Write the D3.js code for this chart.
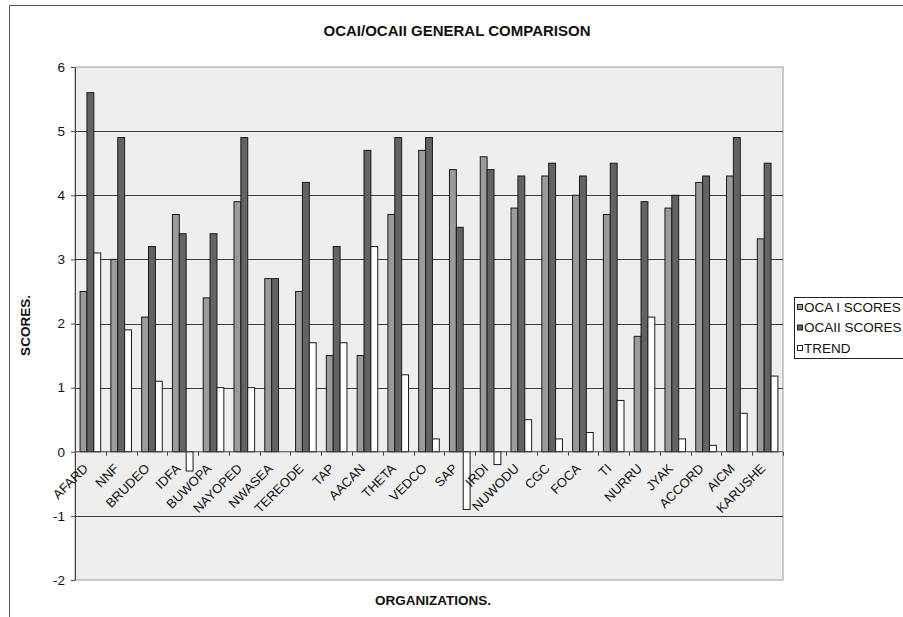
<!DOCTYPE html>
<html>
<head>
<meta charset="utf-8">
<script src="https://cdn.jsdelivr.net/npm/d3@7"></script>
<style>
  body { margin: 0; background: #fff; }
  svg { display: block; font-family: "Liberation Sans", Arial, sans-serif; }
</style>
</head>
<body>
<svg id="chart" width="903" height="617"></svg>
<script>
// chart data
const organizations = ["AFARD", "NNF", "BRUDEO", "IDFA", "BUWOPA", "NAYOPED", "NWASEA", "TEREODE",
  "TAP", "AACAN", "THETA", "VEDCO", "SAP", "IRDI", "NUWODU", "CGC", "FOCA", "TI", "NURRU",
  "JYAK", "ACCORD", "AICM", "KARUSHE"];
const ocaIScores  = [2.5, 3.0, 2.1, 3.7, 2.4, 3.9, 2.7, 2.5, 1.5, 1.5, 3.7, 4.7, 4.4, 4.6, 3.8, 4.3, 4.0, 3.7, 1.8, 3.8, 4.2, 4.3, 3.32];
const ocaIIScores = [5.6, 4.9, 3.2, 3.4, 3.4, 4.9, 2.7, 4.2, 3.2, 4.7, 4.9, 4.9, 3.5, 4.4, 4.3, 4.5, 4.3, 4.5, 3.9, 4.0, 4.3, 4.9, 4.5];
const trend       = [3.1, 1.9, 1.1, -0.3, 1.0, 1.0, 0, 1.7, 1.7, 3.2, 1.2, 0.2, -0.9, -0.2, 0.5, 0.2, 0.3, 0.8, 2.1, 0.2, 0.1, 0.6, 1.18];
const seriesNames = ["OCA I SCORES", "OCAII SCORES", "TREND"];
const seriesColors = ["#9b9b9b", "#636363", "#ffffff"];
const yTicks = [-2, -1, 0, 1, 2, 3, 4, 5, 6];

const svg = d3.select("#chart");
const plot = { left: 75, top: 67, right: 783, bottom: 580 };

// outer chart frame (cut off at right and bottom in the original)
svg.append("path")
  .attr("d", "M9.5,617 V5.5 H903")
  .attr("fill", "none")
  .attr("stroke", "#555")
  .attr("stroke-width", 1);

const x0 = d3.scaleBand().domain(organizations).range([plot.left, plot.right]);
const bw = x0.bandwidth();
const gap = bw * 0.33;
const x1 = d3.scaleBand().domain(seriesNames).range([gap / 2, bw - gap / 2]);
const y = d3.scaleLinear().domain([-2, 6]).range([plot.bottom, plot.top]);

// plot area
svg.append("rect")
  .attr("x", plot.left).attr("y", plot.top)
  .attr("width", plot.right - plot.left).attr("height", plot.bottom - plot.top)
  .attr("fill", "#eeeeee")
  .attr("stroke", "#9a9a9a");

// gridlines
svg.append("g")
  .selectAll("line")
  .data(yTicks.filter(t => t !== -2 && t !== 6 && t !== 0))
  .join("line")
    .attr("x1", plot.left).attr("x2", plot.right)
    .attr("y1", d => Math.round(y(d)) + 0.5).attr("y2", d => Math.round(y(d)) + 0.5)
    .attr("stroke", "#3a3a3a");

// bars
const rows = organizations.map((org, i) => ({
  org,
  values: [ocaIScores[i], ocaIIScores[i], trend[i]]
}));

const groups = svg.append("g")
  .selectAll("g")
  .data(rows)
  .join("g")
    .attr("transform", d => `translate(${x0(d.org)},0)`);

groups.selectAll("rect")
  .data(d => d.values.map((v, k) => ({ name: seriesNames[k], value: v, k })).filter(e => e.value !== 0))
  .join("rect")
    .attr("x", d => x1(d.name))
    .attr("width", x1.bandwidth())
    .attr("y", d => y(Math.max(0, d.value)))
    .attr("height", d => Math.abs(y(d.value) - y(0)))
    .attr("fill", d => seriesColors[d.k])
    .attr("stroke", "#1a1a1a")
    .attr("stroke-width", 1);

// y axis
const yAxis = svg.append("g")
  .attr("transform", `translate(${plot.left},0)`)
  .call(d3.axisLeft(y).tickValues(yTicks).tickFormat(d3.format("d")).tickSize(4).tickSizeOuter(0));
yAxis.select(".domain").attr("stroke", "#444");
yAxis.selectAll(".tick line").attr("stroke", "#444");
yAxis.selectAll(".tick text")
  .attr("font-size", 13.5)
  .attr("fill", "#111")
  .attr("x", -10)
  .text(d => d < 0 ? "-" + Math.abs(d) : d);

// x axis along zero
const xAxisG = svg.append("g").attr("transform", `translate(0,${y(0)})`);
xAxisG.append("line")
  .attr("x1", plot.left).attr("x2", plot.right)
  .attr("stroke", "#444");
xAxisG.selectAll("line.tk")
  .data(organizations)
  .join("line")
    .attr("class", "tk")
    .attr("x1", (d, i) => Math.round(plot.left + bw * (i + 1)) + 0.5)
    .attr("x2", (d, i) => Math.round(plot.left + bw * (i + 1)) + 0.5)
    .attr("y1", 0).attr("y2", 4)
    .attr("stroke", "#444");

xAxisG.selectAll("text")
  .data(organizations)
  .join("text")
    .attr("transform", d => `translate(${x0(d) + bw / 2 - 8},11) rotate(-45)`)
    .attr("text-anchor", "end")
    .attr("dy", "0.71em")
    .attr("font-size", 13)
    .attr("fill", "#111")
    .text(d => d);

// titles
svg.append("text")
  .attr("x", 457).attr("y", 36)
  .attr("text-anchor", "middle")
  .attr("font-size", 15).attr("font-weight", "bold")
  .attr("fill", "#111")
  .text("OCAI/OCAII GENERAL COMPARISON");

svg.append("text")
  .attr("transform", `translate(30,${(plot.top + plot.bottom) / 2 + 2}) rotate(-90)`)
  .attr("text-anchor", "middle")
  .attr("font-size", 13.5).attr("font-weight", "bold")
  .attr("fill", "#111")
  .text("SCORES.");

svg.append("text")
  .attr("x", 433).attr("y", 605)
  .attr("text-anchor", "middle")
  .attr("font-size", 13.5).attr("font-weight", "bold")
  .attr("fill", "#111")
  .text("ORGANIZATIONS.");

// legend
const legend = svg.append("g").attr("transform", "translate(794,297)");
legend.append("rect")
  .attr("x", 0.5).attr("y", 0.5)
  .attr("width", 120).attr("height", 61)
  .attr("fill", "#fff")
  .attr("stroke", "#222");
const items = legend.selectAll("g.item")
  .data(seriesNames)
  .join("g")
    .attr("class", "item")
    .attr("transform", (d, i) => `translate(3,${10 + i * 20.5})`);
items.append("rect")
  .attr("x", 0.5).attr("y", -2.5)
  .attr("width", 5).attr("height", 5)
  .attr("fill", (d, i) => seriesColors[i])
  .attr("stroke", "#222");
items.append("text")
  .attr("x", 7).attr("dy", "0.36em")
  .attr("font-size", 13.5)
  .attr("fill", "#111")
  .text(d => d);
</script>
</body>
</html>
